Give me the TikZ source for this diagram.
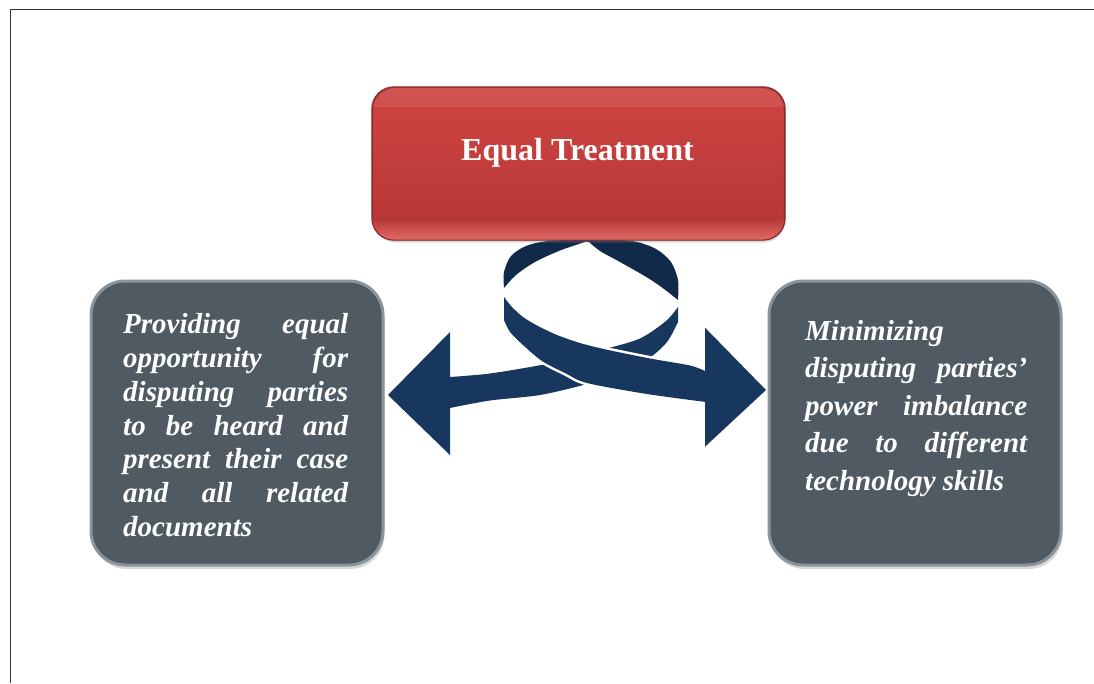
\documentclass[tikz,border=0pt]{standalone}
\usepackage{fontspec}
\setmainfont{Liberation Serif}
\usetikzlibrary{shadows}
\definecolor{ribbon}{HTML}{17375E}
\definecolor{ribbonback}{HTML}{122A4A}
\definecolor{slatebody}{HTML}{4F5A62}
\definecolor{slaterim}{HTML}{8A949A}
\definecolor{redtop}{HTML}{CF4543}
\definecolor{redbot}{HTML}{B53634}
\definecolor{redline}{HTML}{8E2A29}
\definecolor{redglow}{HTML}{E26D6A}
\definecolor{framegray}{HTML}{333333}
\begin{document}
\begin{tikzpicture}[x=1pt, y=-1pt,
  sidebox/.style={rounded corners=34pt, fill=slatebody, draw=slaterim, line width=3pt, minimum width=292pt, minimum height=284pt, drop shadow={opacity=0.3, shadow xshift=1.5pt, shadow yshift=-4pt}},
  sidetext/.style={anchor=base west, inner sep=0pt, text=white, align=justify, font=\fontsize{29}{33.9}\selectfont\bfseries\itshape}]
\useasboundingbox (0,0) rectangle (1094,683);
\draw[framegray, line width=1.8pt] (10.5,683) -- (10.5,9.5) -- (1094,9.5);
% ribbon: back of the loop, strand going under, front band
\fill[ribbonback] plot[smooth] coordinates {(504,288) (504,272) (511,256) (526,246) (548,241) (590,239.5) (632,241) (656,249) (671,262) (678,280) (678,300)}
  -- plot[smooth] coordinates {(678,300) (664,289) (648,278) (620,262) (600,251) (589,242)}
  -- (585,241.5)
  -- plot[smooth] coordinates {(585,242) (560,250.5) (535,262) (516,275) (504,288)} -- cycle;
\fill[ribbon] (388,395) -- (450,332) -- (450,377)
  -- plot[smooth] coordinates {(450,377) (490,373.5) (541,365) (574,357) (605,349) (640,338.5) (666,321) (678,307)}
  -- (678,322)
  -- plot[smooth] coordinates {(678,322) (667,342) (648,359) (620,373) (587,384) (540,395) (490,400.5) (450,408)}
  -- (450,455) -- cycle;
\fill[ribbon, preaction={draw=white, line width=5pt}] plot[smooth] coordinates {(504,297) (512,307) (523,317) (538,326) (557,335) (580,343) (606,349.5) (650,358.5) (690,365.5) (706,371.5)}
  -- (706,402)
  -- plot[smooth] coordinates {(706,402) (647,394) (587,383) (565,373) (542,361) (523,345) (510,332) (504,320)} -- cycle;
\fill[ribbon] (705,327.7) -- (766,390) -- (705,446.7) -- cycle;
% title box
\node[rounded corners=22pt, minimum width=412pt, minimum height=152pt, top color=redtop, bottom color=redbot, draw=redline, line width=1.2pt, drop shadow={opacity=0.3, shadow xshift=1pt, shadow yshift=-3pt}] (eqbox) at (578.5,163.5) {};
\begin{scope}
\clip[rounded corners=22pt] (eqbox.south west) rectangle (eqbox.north east);
\fill[white, opacity=0.08] (372,87) rectangle (785,107);
\fill[top color=redbot, bottom color=redglow] (372,218) rectangle (785,241);
\end{scope}
\draw[redline, line width=1.2pt, rounded corners=22pt] (eqbox.south west) rectangle (eqbox.north east);
\node[anchor=base, inner sep=0pt, text=white, font=\fontsize{32}{36}\selectfont\bfseries] (eqtxt) at (577.5,160) {Equal Treatment};
% side boxes
\node[sidebox] (leftbox) at (237,423) {};
\node[sidebox] (rightbox) at (915,423) {};
\node[sidetext, text width=225pt] (lefttxt) at (123,333.3) {Providing equal\linebreak opportunity for\linebreak disputing parties\linebreak to be heard and\linebreak present their case\linebreak and all related\linebreak documents};
\node[sidetext, text width=222pt, font=\fontsize{29}{37.5}\selectfont\bfseries\itshape] (righttxt) at (805,340) {Minimizing\newline disputing parties'\linebreak power imbalance\linebreak due to different\linebreak technology skills};
\end{tikzpicture}
\end{document}
